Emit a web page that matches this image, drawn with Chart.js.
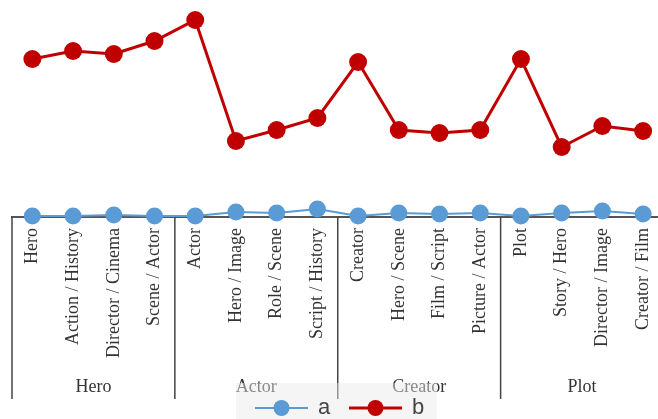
<!DOCTYPE html>
<html>
<head>
<meta charset="utf-8">
<script src="https://cdn.jsdelivr.net/npm/chart.js@4"></script>
<style>
  html, body { margin: 0; padding: 0; background: #fff; overflow: hidden; }
  #wrap { position: relative; width: 676px; height: 419px; }
</style>
</head>
<body>
<div id="wrap"><canvas id="chart"></canvas></div>
<script>
const categories = [
  'Hero', 'Action / History', 'Director / Cinema', 'Scene / Actor',
  'Actor', 'Hero / Image', 'Role / Scene', 'Script / History',
  'Creator', 'Hero / Scene', 'Film / Script', 'Picture / Actor',
  'Plot', 'Story / Hero', 'Director / Image', 'Creator / Film'
];
const groups = ['Hero', 'Actor', 'Creator', 'Plot'];
const groupSize = 4;
const seriesA = [1, 1, 2, 1, 1, 5, 4, 8, 1, 4, 3, 4, 1, 4, 6, 3];
const seriesB = [158, 166, 163, 176, 197, 76, 87, 99, 155, 87, 84, 87, 158, 70, 91, 86];
const seriesNames = ['a', 'b'];
const colorA = '#5b9bd5';
const colorB = '#c00000';

// group separators, group labels and the legend box
const groupPlugin = {
  id: 'groups',
  afterDraw(chart) {
    const ctx = chart.ctx;
    const xs = chart.scales.x;
    const top = chart.chartArea.bottom;
    ctx.save();
    ctx.strokeStyle = '#444';
    ctx.lineWidth = 1.5;
    for (let g = 0; g < groups.length; g++) {
      const x0 = xs.getPixelForValue(g * groupSize - 0.5);
      ctx.beginPath();
      ctx.moveTo(x0, top);
      ctx.lineTo(x0, 399);
      ctx.stroke();
    }
    ctx.fillStyle = '#333';
    ctx.font = '18px "Liberation Serif"';
    ctx.textAlign = 'center';
    ctx.textBaseline = 'middle';
    groups.forEach((name, g) => {
      const a = xs.getPixelForValue(g * groupSize - 0.5);
      const b = xs.getPixelForValue((g + 1) * groupSize - 0.5);
      ctx.fillText(name, (a + b) / 2, 387);
    });

    // legend
    ctx.fillStyle = 'rgba(234,234,234,0.47)';
    ctx.fillRect(236, 383, 201, 40);
    const items = [
      { x: 255, color: colorA, w: 2, name: seriesNames[0] },
      { x: 349, color: colorB, w: 3, name: seriesNames[1] }
    ];
    const ly = 408;
    items.forEach(it => {
      ctx.strokeStyle = it.color;
      ctx.lineWidth = it.w;
      ctx.beginPath();
      ctx.moveTo(it.x, ly);
      ctx.lineTo(it.x + 53, ly);
      ctx.stroke();
      ctx.fillStyle = it.color;
      ctx.beginPath();
      ctx.arc(it.x + 26.5, ly, 8, 0, Math.PI * 2);
      ctx.fill();
      ctx.fillStyle = '#444';
      ctx.font = '22px "Liberation Sans"';
      ctx.textAlign = 'left';
      ctx.fillText(it.name, it.x + 63, ly);
    });
    ctx.restore();
  }
};

new Chart(document.getElementById('chart'), {
  type: 'line',
  data: {
    labels: categories,
    datasets: [
      {
        label: seriesNames[0],
        data: seriesA,
        borderColor: colorA,
        backgroundColor: colorA,
        borderWidth: 2,
        pointRadius: 8.5,
        pointHoverRadius: 8.5,
        pointBorderWidth: 0,
        clip: false
      },
      {
        label: seriesNames[1],
        data: seriesB,
        borderColor: colorB,
        backgroundColor: colorB,
        borderWidth: 3,
        pointRadius: 9,
        pointHoverRadius: 9,
        pointBorderWidth: 0,
        clip: false
      }
    ]
  },
  options: {
    responsive: true,
    maintainAspectRatio: false,
    animation: false,
    layout: { padding: { left: 12, right: 1, top: 10, bottom: 0 } },
    plugins: {
      legend: { display: false },
      tooltip: { enabled: false }
    },
    scales: {
      x: {
        offset: true,
        grid: { display: false, drawTicks: false },
        border: { display: true, color: '#555', width: 2 },
        ticks: {
          autoSkip: false,
          minRotation: 90,
          maxRotation: 90,
          padding: 11,
          color: '#333',
          font: { family: 'Liberation Serif', size: 18 }
        },
        afterFit(scale) { scale.height = 202; }
      },
      y: {
        display: false,
        min: 0,
        max: 207
      }
    }
  },
  plugins: [groupPlugin]
});
</script>
</body>
</html>
